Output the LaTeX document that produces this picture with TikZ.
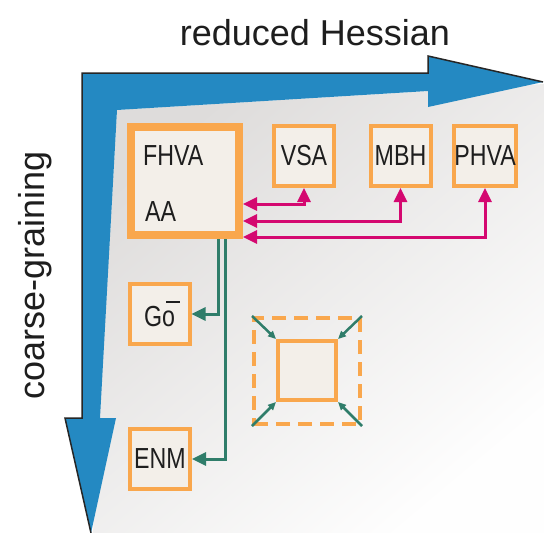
\documentclass[tikz,border=0pt]{standalone}
\usepackage{fontspec}
\setmainfont{Liberation Sans}
\newfontfamily\narrowfont[FakeStretch=0.8]{Liberation Sans}
\usetikzlibrary{arrows.meta}
\definecolor{arrowblue}{RGB}{36,137,194}
\definecolor{boxorange}{RGB}{249,167,77}
\definecolor{boxfill}{RGB}{243,239,233}
\definecolor{linkmag}{RGB}{212,8,112}
\definecolor{linkgreen}{RGB}{47,125,106}
\definecolor{bgdark}{RGB}{222,220,219}
\definecolor{bglight}{RGB}{254,254,254}
\definecolor{txt}{RGB}{30,30,30}
\begin{document}
\begin{tikzpicture}[x=1pt,y=-1pt,
  box/.style={draw=boxorange, fill=boxfill, line width=4pt, minimum width=60pt,
    minimum height=60pt, inner sep=0pt, text=txt,
    font=\narrowfont\fontsize{29}{32}\selectfont},
  bigbox/.style={box, line width=8pt, minimum width=108pt, minimum height=108pt},
  lbl/.style={inner sep=0pt, text=txt, font=\narrowfont\fontsize{29}{32}\selectfont},
  axislbl/.style={inner sep=0pt, text=txt, font=\fontsize{36}{40}\selectfont},
  maglink/.style={draw=linkmag, line width=3pt,
    {Triangle[length=14pt,width=13pt]}-{Triangle[length=14pt,width=13pt]}},
  grnlink/.style={draw=linkgreen, line width=3pt, -{Triangle[length=14pt,width=13pt]}},
  smalllink/.style={draw=linkgreen, line width=2.5pt, -{Triangle[length=8pt,width=7pt]}},
  dashbox/.style={draw=boxorange, line width=4pt, dash pattern=on 14pt off 8pt,
    minimum width=106pt, minimum height=106pt, inner sep=0pt},
]
\useasboundingbox (0,0) rectangle (544,533);
% background
\fill[white] (0,0) rectangle (544,533);
\shade[top color=bgdark, bottom color=bglight, shading angle=40]
  (117,110) -- (544,84) -- (544,533) -- (93,533) -- cycle;
% blue axes
\fill[arrowblue] (82,73) -- (428,73) -- (428,56) -- (543,82) -- (428,107) -- (428,91)
  -- (117,110) -- (100,418) -- (116,418) -- (91,533) -- (65,418) -- (82,418) -- cycle;
\draw[black!85, line width=1.5pt, line join=miter]
  (91,533) -- (65,418) -- (82,418) -- (82,73) -- (428,73) -- (428,56) -- (543,82);
% axis labels
\node[axislbl, anchor=base] (hess) at (315,45) {reduced Hessian};
\node[axislbl, anchor=base, rotate=90] (cg) at (44,275) {coarse-graining};
% boxes
\node[bigbox] (fhva) at (185,181) {};
\node[lbl, anchor=base west] (fhvat) at (143,165) {FHVA};
\node[lbl, anchor=base west] (aat) at (145,221) {AA};
\node[box] (vsa) at (304,156) {VSA};
\node[box] (mbh) at (400.5,156) {MBH};
\node[box] (phva) at (485,156) {PHVA};
\node[box] (go) at (159.5,314) {G\makebox[0pt][l]{\hspace{0.14em}\rule[0.82em]{0.48em}{0.06em}}o};
\node[box] (enm) at (160,459) {ENM};
\node[dashbox] (dbox) at (307,371) {};
\node[box, minimum width=58pt, minimum height=59pt] (ibox) at (307,370.5) {};
% magenta links
\coordinate (m1) at (0,204);
\coordinate (m2) at (0,221);
\coordinate (m3) at (0,237);
\draw[maglink] (fhva.east |- m1) -| (vsa.south);
\draw[maglink] (fhva.east |- m2) -| (mbh.south);
\draw[maglink] (fhva.east |- m3) -| (phva.south);
% green links
\coordinate (g1) at (218,0);
\coordinate (g2) at (225,0);
\draw[grnlink] (fhva.south -| g1) |- (go.east);
\draw[grnlink] (fhva.south -| g2) |- (enm.east);
% corner arrows
\draw[smalllink] (dbox.north west) -- (ibox.north west);
\draw[smalllink] (dbox.north east) -- (ibox.north east);
\draw[smalllink] (dbox.south west) -- (ibox.south west);
\draw[smalllink] (dbox.south east) -- (ibox.south east);
\end{tikzpicture}
\end{document}
